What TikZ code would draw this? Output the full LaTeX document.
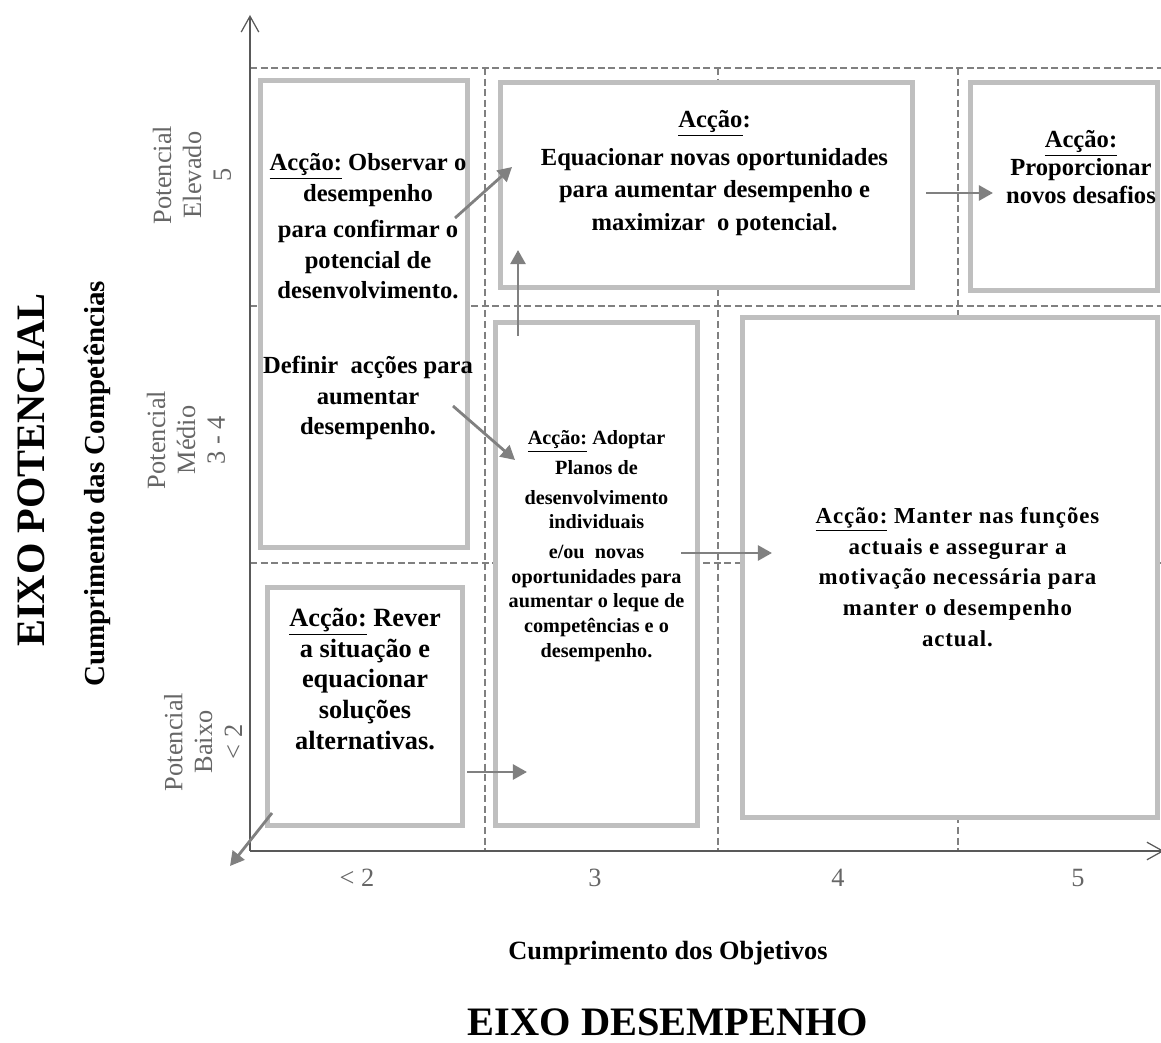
\documentclass[tikz,border=0pt]{standalone}
\usepackage{fontspec}
\setmainfont{Liberation Serif}
\usepackage{tikz}
\usetikzlibrary{positioning, arrows.meta}
\tikzstyle{quadbox} = [rectangle, draw=gray!50, line width=2.8pt, fill=white, inner sep=0pt]
\tikzstyle{boxtext} = [align=center, inner sep=0pt, font=\bfseries\fontsize{14}{16}\selectfont]
\tikzstyle{ticklabel} = [align=center, text=black!60, font=\fontsize{15}{17}\selectfont]
\tikzstyle{gridline} = [draw=black!50, line width=0.6pt, dash pattern=on 4pt off 2pt]
\tikzstyle{axis} = [draw=black!65, line width=0.7pt, -{Straight Barb[length=9pt,width=10pt]}]
\tikzstyle{arrow} = [draw=black!50, line width=1.6pt, -{Triangle[length=8pt,width=8.5pt]}]

\begin{document}
\begin{tikzpicture}[x=0.02cm, y=-0.02cm]
\useasboundingbox (0,0) rectangle (1161,1043);

% dashed grid
\foreach \y in {68,306,563}
	\draw [gridline] (250,\y) -- (1161,\y);
\foreach \x in {485,718,958}
	\draw [gridline] (\x,68) -- (\x,850);

% axes
\coordinate (origin) at (250,851);
\coordinate (ytop) at (250,15);
\coordinate (xend) at (1164,851);
\draw [axis] (origin) -- (ytop);
\draw [axis] (origin) -- (xend);

% quadrant boxes
\node (b1) [quadbox, minimum width=4.14cm, minimum height=9.34cm] at (364,314) {};
\node (b2) [quadbox, minimum width=8.24cm, minimum height=4.1cm] at (706.5,185) {};
\node (b3) [quadbox, minimum width=3.74cm, minimum height=4.16cm] at (1064,186.5) {};
\node (b4) [quadbox, minimum width=4.04cm, minimum height=10.06cm] at (596.5,574) {};
\node (b5) [quadbox, minimum width=8.3cm, minimum height=10cm] at (950,567.5) {};
\node (b6) [quadbox, minimum width=3.9cm, minimum height=4.76cm] at (365,706.5) {};

% box texts
\node (t1) [boxtext, font=\bfseries\fontsize{14}{17.5}\selectfont, below=1.5cm of b1.north, xshift=0.08cm]
	{\underline{Acção:} Observar o\\desempenho\\[3pt]para confirmar o\\potencial de\\desenvolvimento.\\[25pt]Definir~ acções para\\aumentar\\desempenho.};
\node (t2) [boxtext, font=\bfseries\fontsize{14}{18.5}\selectfont, below=0.6cm of b2.north, xshift=0.16cm]
	{\underline{Acção}:\\[3pt]Equacionar novas oportunidades\\para aumentar desempenho e\\maximizar~ o potencial.};
\node (t3) [boxtext, below=1.0cm of b3.north, xshift=0.34cm]
	{\underline{Acção:}\\Proporcionar\\novos desafios};
\node (t4) [boxtext, font=\bfseries\fontsize{11.5}{14}\selectfont, below=2.2cm of b4.north]
	{\underline{Acção:} Adoptar\\[3pt]Planos de\\[3pt]desenvolvimento\\individuais\\[3pt]e/ou~ novas\\oportunidades para\\aumentar o leque de\\competências e o\\desempenho.};
\node (t5) [boxtext, font=\bfseries\fontsize{13}{17.5}\selectfont\addfontfeature{LetterSpace=4}, below=3.84cm of b5.north, xshift=0.15cm]
	{\underline{Acção:} Manter nas funções\\actuais e assegurar a\\motivação necessária para\\manter o desempenho\\actual.};
\node (t6) [boxtext, font=\bfseries\fontsize{15}{17.5}\selectfont, below=0.45cm of b6.north]
	{\underline{Acção:} Rever\\a situação e\\equacionar\\soluções\\alternativas.};

% axis labels
\node (py5) [ticklabel, rotate=90] at (192,175) {Potencial\\Elevado\\5};
\node (py34) [ticklabel, rotate=90] at (186,440) {Potencial\\Médio\\3 - 4};
\node (py2) [ticklabel, rotate=90] at (203,742) {Potencial\\Baixo\\< 2};
\node (px2) [ticklabel] at (357,878) {< 2};
\node (px3) [ticklabel] at (595,878) {3};
\node (px4) [ticklabel] at (838,878) {4};
\node (px5) [ticklabel] at (1078,878) {5};

\node (ytitle) [rotate=90, font=\bfseries\fontsize{23}{27}\selectfont] at (31,470) {EIXO POTENCIAL};
\node (ysub) [rotate=90, font=\bfseries\fontsize{16.5}{19}\selectfont] at (97,484) {Cumprimento das Competências};
\node (xsub) [font=\bfseries\fontsize{15}{18}\selectfont] at (668,953) {Cumprimento dos Objetivos};
\node (xtitle) [anchor=base, font=\bfseries\fontsize{23}{27}\selectfont] at (668,1036) {EIXO DESEMPENHO};

% arrows
\coordinate (a1s) at (455,218); \coordinate (a1e) at (512,167);
\coordinate (a2s) at (518,336); \coordinate (a2e) at (518,250);
\coordinate (a3s) at (926,193); \coordinate (a3e) at (993,193);
\coordinate (a4s) at (453,406); \coordinate (a4e) at (515,460);
\coordinate (a5s) at (681,553); \coordinate (a5e) at (772,553);
\coordinate (a6s) at (467,772); \coordinate (a6e) at (527,772);
\coordinate (a7s) at (272,813); \coordinate (a7e) at (230,866);

\draw [arrow] (a1s) -- (a1e);
\draw [arrow] (a2s) -- (a2e);
\draw [arrow] (a3s) -- (a3e);
\draw [arrow] (a4s) -- (a4e);
\draw [arrow] (a5s) -- (a5e);
\draw [arrow] (a6s) -- (a6e);
\draw [arrow] (a7s) -- (a7e);

\end{tikzpicture}
\end{document}
